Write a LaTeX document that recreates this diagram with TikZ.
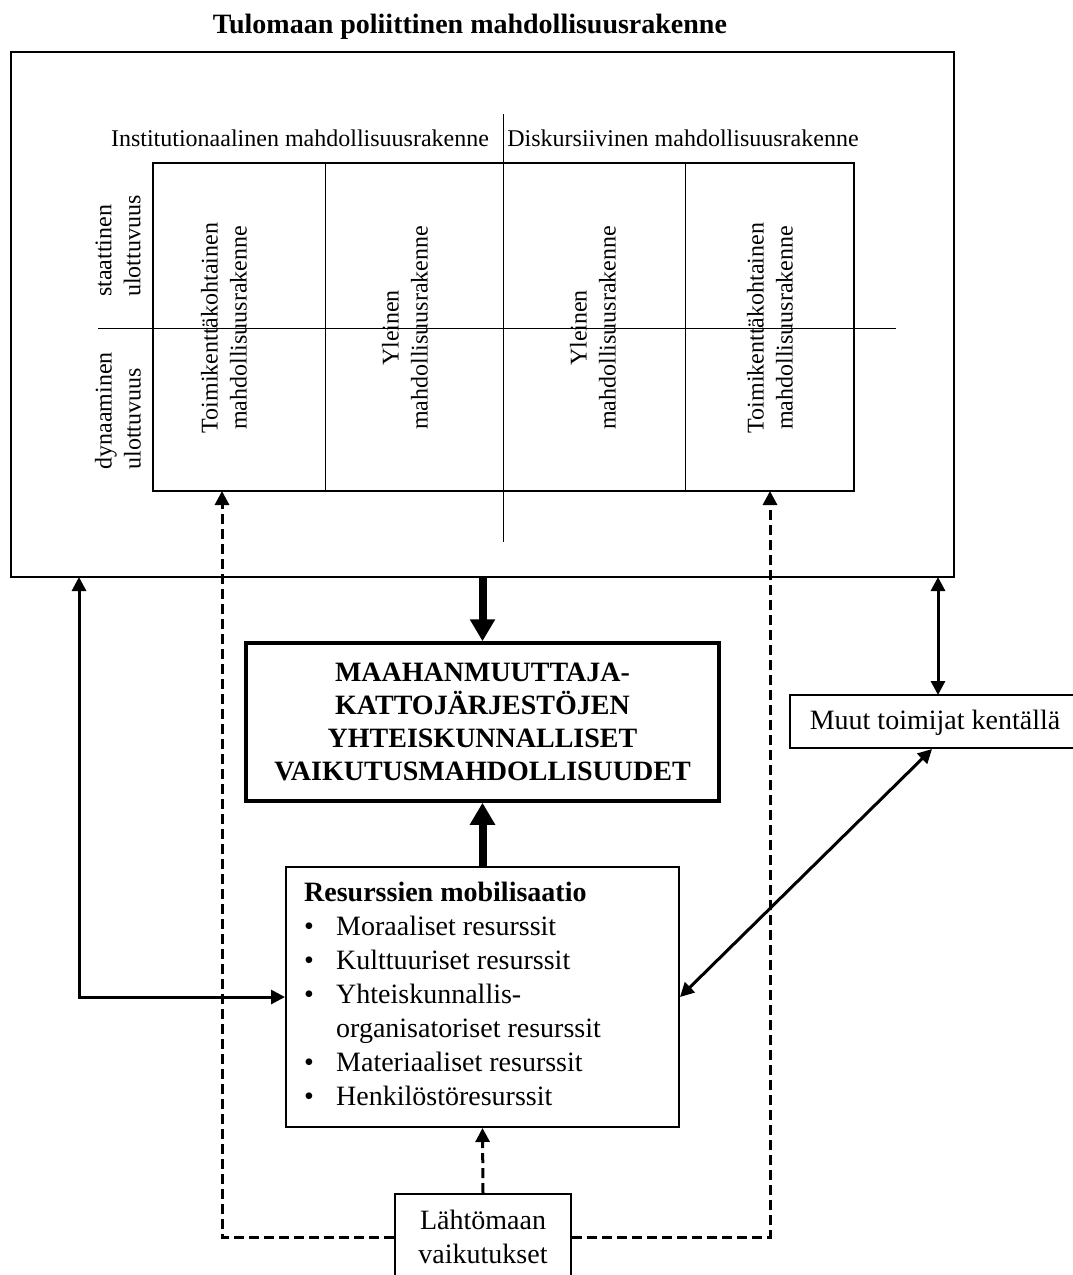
\documentclass[tikz,border=0pt]{standalone}
\usepackage{fontspec}
\setmainfont{Liberation Serif}
\usetikzlibrary{arrows.meta,calc}
\begin{document}
\begin{tikzpicture}[x=1pt,y=1pt,
  bx/.style={draw, line width=2pt, inner sep=0pt},
  thinln/.style={line width=1pt},
  tip/.tip={Triangle[length=14pt,width=14pt]},
  arr/.style={line width=3pt, -tip},
  darr/.style={line width=3pt, tip-tip},
  bigarr/.style={line width=8pt, -{Triangle[length=22pt,width=24pt]}},
  dasharr/.style={line width=3pt, dash pattern=on 10pt off 5pt, -tip},
  f24/.style={font=\fontsize{24}{29}\selectfont},
  f28/.style={font=\fontsize{28}{34}\selectfont},
]
\useasboundingbox (0,0) rectangle (1072,-1275);

% title
\node[font=\bfseries\fontsize{28}{32}\selectfont] (title) at (470,-27) {Tulomaan poliittinen mahdollisuusrakenne};

% outer box and grid
\node[bx, minimum width=943pt, minimum height=525pt] (outer) at (482.5,-314.5) {};
\node[bx, minimum width=701pt, minimum height=328pt] (grid) at (503.5,-327) {};
\draw[thinln] (325,-163) -- (325,-491);
\draw[thinln] (685,-163) -- (685,-491);
\draw[thinln] (503,-114) -- (503,-542);
\draw[thinln] (98,-328) -- (896,-328);

% headers
\node[f24] (hinst) at (300,-138) {Institutionaalinen mahdollisuusrakenne};
\node[f24] (hdisk) at (683,-138) {Diskursiivinen mahdollisuusrakenne};

% left labels
\node[f24, rotate=90, align=left] (stat) at (118,-246) {staattinen\\ulottuvuus};
\node[f24, rotate=90, align=left] (dyn) at (118,-411) {dynaaminen\\ulottuvuus};

% cells
\node[f24, rotate=90, align=center] (c1) at (224,-328) {Toimikenttäkohtainen\\mahdollisuusrakenne};
\node[f24, rotate=90, align=center] (c2) at (405,-328) {Yleinen\\mahdollisuusrakenne};
\node[f24, rotate=90, align=center] (c3) at (593,-328) {Yleinen\\mahdollisuusrakenne};
\node[f24, rotate=90, align=center] (c4) at (770,-328) {Toimikenttäkohtainen\\mahdollisuusrakenne};

% central box
\node[bx, line width=3.5pt, minimum width=473pt, minimum height=158pt, align=center,
      font=\bfseries\fontsize{28}{33}\selectfont] (maa) at (482.5,-722)
  {MAAHANMUUTTAJA-\\KATTOJÄRJESTÖJEN\\YHTEISKUNNALLISET\\VAIKUTUSMAHDOLLISUUDET};

% resources box
\node[bx, minimum width=393pt, minimum height=260pt] (res) at (482.5,-997) {};
\node[f28, align=left, anchor=north west, inner sep=0pt] (restext) at (304,-882)
  {\textbf{Resurssien mobilisaatio}\\
   \makebox[32pt][l]{\textbullet}Moraaliset resurssit\\
   \makebox[32pt][l]{\textbullet}Kulttuuriset resurssit\\
   \makebox[32pt][l]{\textbullet}Yhteiskunnallis-\\
   \hspace*{32pt}organisatoriset resurssit\\
   \makebox[32pt][l]{\textbullet}Materiaaliset resurssit\\
   \makebox[32pt][l]{\textbullet}Henkilöstöresurssit};

% other actors
\node[bx, minimum width=284pt, minimum height=53pt] (muut) at (932,-721.5) {};
\node[f28, anchor=center] (muuttext) at (935,-723) {Muut toimijat kentällä};

% origin country
\node[bx, minimum width=176pt, minimum height=86pt, align=center, f28] (lah) at (483,-1237)
  {Lähtömaan\\vaikutukset};

% connectors
\draw[bigarr] (outer.south -| maa.north) -- (maa.north);
\draw[bigarr] (res.north) -- (maa.south);

\coordinate (lc) at (79,-577);
\draw[darr] (res.west) -| (lc);

\coordinate (rc) at (938,-577);
\coordinate (rm) at (938,-695);
\draw[darr] (rc) -- (rm);
\draw[darr] (muut.south) -- (res.east);

\draw[dasharr] (lah.north) -- (res.north |- res.south);
\coordinate (dl) at (222,-491);
\coordinate (dr) at (770,-491);
\draw[dasharr] (lah.west) -| (dl);
\draw[dasharr] (lah.east) -| (dr);
\end{tikzpicture}
\end{document}
